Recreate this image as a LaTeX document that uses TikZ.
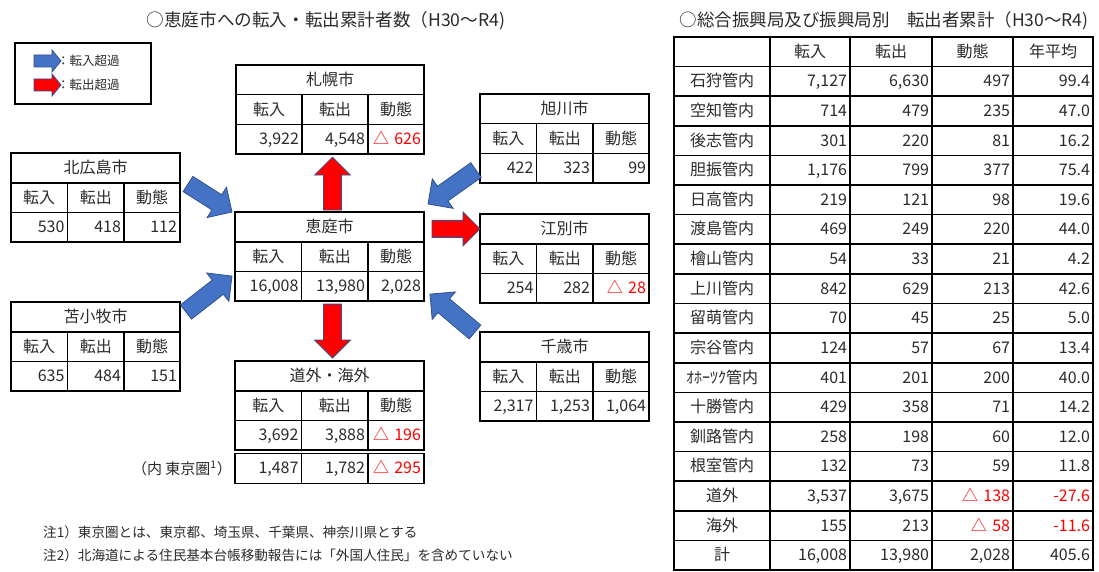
\documentclass[tikz,border=0pt]{standalone}
\usepackage{fontspec}
\setmainfont{Noto Sans CJK JP}
\usetikzlibrary{calc, positioning}
\definecolor{inblue}{HTML}{4472C4}
\definecolor{edgeblue}{HTML}{2F528F}
\definecolor{ink}{HTML}{2B2B2B}
\tikzset{
  cell/.style={draw=black, line width=1.6pt, outer sep=0pt, inner sep=3pt,
    minimum height=29.7pt, text height=13.5pt, text depth=2.5pt, text=ink,
    font=\fontsize{16}{18}\selectfont, anchor=north west},
  numcell/.style={cell, align=right, text width=#1},
  rcell/.style={cell, minimum height=29.61pt},
  rnum/.style={rcell, align=right, text width=#1},
  tabframe/.style={inner sep=0pt, outer sep=0pt, minimum height=89.1pt, anchor=north west},
  plaintext/.style={text=ink, inner sep=2pt},
  flowline/.style={draw=edgeblue, line width=0.8pt, line join=miter},
}
\newcommand{\redval}[1]{\textcolor{red}{#1}}
% name, x, y, width of first two columns, width of last column, title, in, out, net
\newcommand{\citytab}[9]{%
  \pgfmathsetmacro{\tabW}{2*#4+#5}
  \pgfmathsetmacro{\colA}{#4-6}
  \pgfmathsetmacro{\colC}{#5-6}
  \node[tabframe, minimum width={\tabW pt}] (#1) at (#2,#3) {};
  \node[cell, minimum width={\tabW pt}] (#1-t) at (#1.north west) {#6};
  \node[cell, minimum width=#4pt] (#1-h1) at (#1-t.south west) {転入};
  \node[cell, minimum width=#4pt] (#1-h2) at (#1-h1.north east) {転出};
  \node[cell, minimum width=#5pt] (#1-h3) at (#1-h2.north east) {動態};
  \node[numcell={\colA pt}] (#1-v1) at (#1-h1.south west) {#7};
  \node[numcell={\colA pt}] (#1-v2) at (#1-v1.north east) {#8};
  \node[numcell={\colC pt}] (#1-v3) at (#1-v2.north east) {#9};
}
% colour, shaft half width, head half width, head length, tail, tip
\newcommand{\flowarrow}[6]{%
  \coordinate (fa-a) at #5;
  \coordinate (fa-b) at #6;
  \coordinate (fa-h) at ($(fa-b)!#4!(fa-a)$);
  \draw[flowline, fill=#1] ($(fa-a)!#2!90:(fa-b)$) -- ($(fa-h)!#2!90:(fa-b)$)
    -- ($(fa-h)!#3!90:(fa-b)$) -- (fa-b) -- ($(fa-h)!#3!-90:(fa-b)$)
    -- ($(fa-h)!#2!-90:(fa-b)$) -- ($(fa-a)!#2!-90:(fa-b)$) -- cycle;
}

\begin{document}
\begin{tikzpicture}[x=1pt, y=-1pt]
\useasboundingbox (0,0) rectangle (1099,572);
\fill[white] (0,0) rectangle (1099,572);

\node[plaintext, font=\fontsize{17.6}{19}\selectfont] (title-l) at (326,21) {○恵庭市への転入・転出累計者数（H30～R4)};
\node[plaintext, font=\fontsize{17.5}{19}\selectfont] (title-r) at (884,21) {○総合振興局及び振興局別　転出者累計（H30～R4)};

% legend
\node[draw=black, line width=1.6pt, outer sep=0pt, minimum width=136pt, minimum height=61pt, anchor=north west] (legend) at (15,43) {};
\node[plaintext, anchor=west, font=\fontsize{12.5}{14}\selectfont] (key-in) at (55,61) {：転入超過};
\node[plaintext, anchor=west, font=\fontsize{12.5}{14}\selectfont] (key-out) at (55,85) {：転出超過};
\flowarrow{inblue}{6pt}{11pt}{9pt}{($(key-in.west)+(-21,0)$)}{($(key-in.west)+(6,0)$)}
\flowarrow{red}{6pt}{11pt}{9pt}{($(key-out.west)+(-21,0)$)}{($(key-out.west)+(6,0)$)}

% city tables
\citytab{sapporo}{236}{65}{66}{56}{札幌市}{3,922}{4,548}{\redval{△ 626}}
\citytab{eniwa}{235}{212}{66.5}{56}{恵庭市}{16,008}{13,980}{2,028}
\citytab{dougai}{235}{361}{66.5}{56}{道外・海外}{3,692}{3,888}{\redval{△ 196}}
\citytab{kita}{11}{153}{56.5}{56}{北広島市}{530}{418}{112}
\citytab{toma}{11}{302}{56.5}{56}{苫小牧市}{635}{484}{151}
\citytab{asahi}{480}{94}{56.5}{56}{旭川市}{422}{323}{99}
\citytab{ebetsu}{480}{214}{56.5}{56}{江別市}{254}{282}{\redval{△ 28}}
\citytab{chitose}{480}{332}{56.5}{56}{千歳市}{2,317}{1,253}{1,064}

\node[numcell=60.5pt] (dougai-k1) at ($(dougai-v1.south west)+(0,3.5)$) {1,487};
\node[numcell=60.5pt] (dougai-k2) at (dougai-k1.north east) {1,782};
\node[numcell=50pt] (dougai-k3) at (dougai-k2.north east) {\redval{△ 295}};
\node[plaintext, anchor=east, font=\fontsize{15}{17}\selectfont] (tokyo) at ($(dougai-k1.west)+(-1,0)$) {（内 東京圏\textsuperscript{1}）};

% flows
\flowarrow{inblue}{9pt}{18pt}{18pt}{($(kita.north east)+(8,31)$)}{($(eniwa.north west)+(-3,0)$)}
\flowarrow{inblue}{9pt}{18pt}{18pt}{($(toma.north east)+(6,10)$)}{($(eniwa.south west)+(-3,-25)$)}
\flowarrow{red}{9pt}{18pt}{18pt}{($(eniwa.north)+(3,-2)$)}{($(sapporo.south)+(2.5,3)$)}
\flowarrow{red}{9pt}{18pt}{18pt}{($(eniwa.south)+(3,3)$)}{($(dougai.north)+(3,-3)$)}
\flowarrow{red}{8.5pt}{17pt}{17pt}{($(eniwa-t.east)+(8,2)$)}{(ebetsu-t.west)}
\flowarrow{inblue}{9pt}{18pt}{18pt}{($(asahi.south west)+(-4,-13)$)}{($(eniwa.north east)+(4,-8)$)}
\flowarrow{inblue}{9pt}{18pt}{18pt}{($(chitose.north west)+(-5,0)$)}{($(eniwa.south east)+(6,-7)$)}

% notes
\node[plaintext, anchor=west, font=\fontsize{13.6}{15}\selectfont] (note1) at (41,532) {注1）東京圏とは、東京都、埼玉県、千葉県、神奈川県とする};
\node[plaintext, anchor=west, font=\fontsize{13.6}{15}\selectfont] (note2) at (41,555) {注2）北海道による住民基本台帳移動報告には「外国人住民」を含めていない};

% table by subprefecture
\node[rcell, minimum width=96pt] (rt-0-0) at (674,37) {};
\node[rcell, minimum width=80pt] (rt-0-1) at (rt-0-0.north east) {転入};
\node[rcell, minimum width=82pt] (rt-0-2) at (rt-0-1.north east) {転出};
\node[rcell, minimum width=81pt] (rt-0-3) at (rt-0-2.north east) {動態};
\node[rcell, minimum width=80pt] (rt-0-4) at (rt-0-3.north east) {年平均};
\foreach \nm/\va/\vb/\vc/\vd [count=\i] in {
  石狩管内/{7,127}/{6,630}/497/99.4,
  空知管内/714/479/235/47.0,
  後志管内/301/220/81/16.2,
  胆振管内/{1,176}/799/377/75.4,
  日高管内/219/121/98/19.6,
  渡島管内/469/249/220/44.0,
  檜山管内/54/33/21/4.2,
  上川管内/842/629/213/42.6,
  留萌管内/70/45/25/5.0,
  宗谷管内/124/57/67/13.4,
  ｵﾎｰﾂｸ管内/401/201/200/40.0,
  十勝管内/429/358/71/14.2,
  釧路管内/258/198/60/12.0,
  根室管内/132/73/59/11.8,
  道外/{3,537}/{3,675}/{\redval{△ 138}}/{\redval{-27.6}},
  海外/155/213/{\redval{△ 58}}/{\redval{-11.6}},
  計/{16,008}/{13,980}/{2,028}/405.6}{
  \node[rcell, minimum width=96pt] (rt-\i-0) at (674,{37+29.61*\i}) {\nm};
  \node[rnum=74pt] (rt-\i-1) at (rt-\i-0.north east) {\va};
  \node[rnum=76pt] (rt-\i-2) at (rt-\i-1.north east) {\vb};
  \node[rnum=75pt] (rt-\i-3) at (rt-\i-2.north east) {\vc};
  \node[rnum=74pt] (rt-\i-4) at (rt-\i-3.north east) {\vd};
}
\end{tikzpicture}
\end{document}
